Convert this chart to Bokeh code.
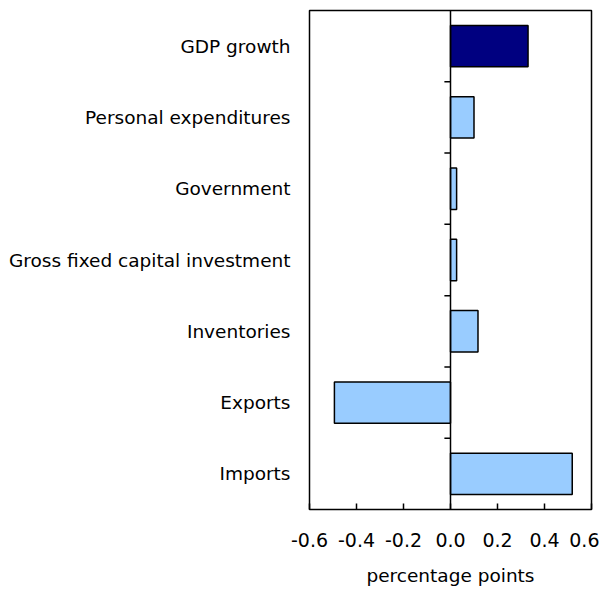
from bokeh.plotting import figure
from bokeh.models import Range1d, FixedTicker, Span, NumeralTickFormatter, ColumnDataSource
from bokeh.embed import file_html
from bokeh.resources import INLINE

categories = ["GDP growth", "Personal expenditures", "Government",
              "Gross fixed capital investment", "Inventories", "Exports", "Imports"]
values = [0.33, 0.10, 0.026, 0.026, 0.117, -0.494, 0.518]
colors = ["#000080", "#99CCFF", "#99CCFF", "#99CCFF", "#99CCFF", "#99CCFF", "#99CCFF"]
x_ticks = [-0.6, -0.4, -0.2, 0.0, 0.2, 0.4, 0.6]

n = len(categories)
ypos = [n - 1 - i for i in range(n)]

FONT = "DejaVu Sans"

p = figure(width=599, height=588, output_backend="svg", toolbar_location=None,
           x_range=Range1d(-0.6, 0.6), y_range=Range1d(-0.5, n - 0.5),
           min_border_left=309, min_border_right=8, min_border_top=10, min_border_bottom=75)

src = ColumnDataSource(dict(y=ypos, v=values, c=colors))
p.hbar(y="y", left=0, right="v", height=0.58, fill_color="c",
       line_color="black", line_width=1.5, source=src)

# zero line
p.add_layout(Span(location=0, dimension="height", line_color="black", line_width=1.5))

# boundary ticks on the zero line
bounds = [i + 0.5 for i in range(n - 1)]
p.segment(x0=[-0.026] * len(bounds), x1=[0] * len(bounds), y0=bounds, y1=bounds,
          line_color="black", line_width=1.5)

p.xgrid.visible = False
p.ygrid.visible = False
p.outline_line_color = "black"
p.outline_line_width = 1.5
p.background_fill_color = "white"
p.border_fill_color = "white"

xa = p.xaxis[0]
xa.ticker = FixedTicker(ticks=x_ticks)
xa.formatter = NumeralTickFormatter(format="0.0")
xa.major_tick_in = 6
xa.major_tick_out = 0
xa.minor_tick_line_color = None
xa.major_tick_line_color = "black"
xa.major_tick_line_width = 1.5
xa.axis_line_color = None
xa.major_label_standoff = 23
xa.major_label_text_font = FONT
xa.major_label_text_font_size = "19px"
xa.major_label_text_color = "black"
xa.axis_label = "percentage points"
xa.axis_label_text_font = FONT
xa.axis_label_text_font_size = "18.5px"
xa.axis_label_text_font_style = "normal"
xa.axis_label_text_color = "black"
xa.axis_label_standoff = 15

ya = p.yaxis[0]
ya.ticker = FixedTicker(ticks=ypos)
ya.major_label_overrides = {y: c for y, c in zip(ypos, categories)}
ya.major_tick_line_color = None
ya.minor_tick_line_color = None
ya.axis_line_color = None
ya.major_tick_out = 0
ya.major_tick_in = 0
ya.major_label_standoff = 19
ya.major_label_text_font = FONT
ya.major_label_text_font_size = "18.5px"
ya.major_label_text_color = "black"

open("out.html", "w").write(file_html(p, INLINE))
